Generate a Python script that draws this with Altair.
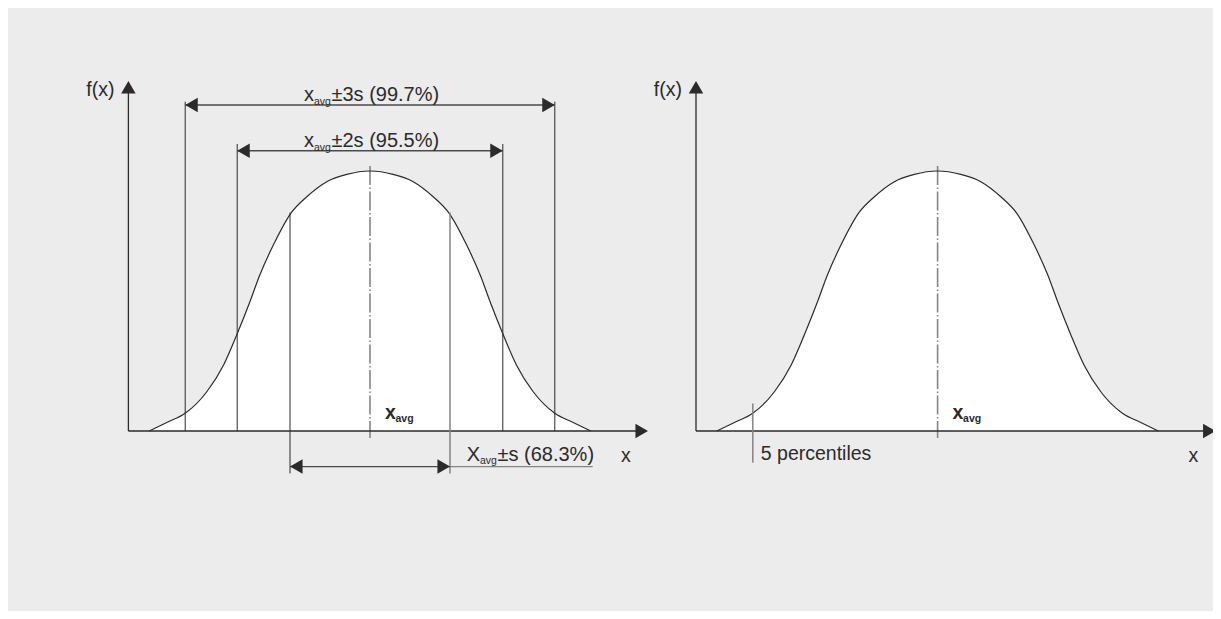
import altair as alt
import pandas as pd

# ---------------- data ----------------
# x in units of s around the mean, y as f(x) relative to its peak
curve_x = [-2.76, -2.54, -2.31, -2.04, -1.83, -1.66, -1.50, -1.38, -1.21, -0.99, -0.79, -0.54, -0.29, 0.0,
           0.29, 0.54, 0.79, 0.99, 1.21, 1.38, 1.50, 1.66, 1.83, 2.04, 2.31, 2.54, 2.76]
curve_y = [0.0, 0.033, 0.068, 0.151, 0.254, 0.374, 0.498, 0.598, 0.714, 0.837, 0.901, 0.959, 0.987, 1.0,
           0.987, 0.959, 0.901, 0.837, 0.714, 0.598, 0.498, 0.374, 0.254, 0.151, 0.068, 0.033, 0.0]
panel_centers = [0.0, 7.095]
band_half_widths = [1.0, 1.66, 2.31]
band_symbols = ["X", "x", "x"]
band_texts = ["\u00b1s (68.3%)", "\u00b12s (95.5%)", "\u00b13s (99.7%)"]
mean_symbol = "x"
mean_sub = "avg"
percentile_pos = -2.31
percentile_text = "5 percentiles"
axis_texts = ["f(x)", "x"]

# ---------------- layout ----------------
W, H = 1205, 603
SX, SY = 80.0, 260.0        # px per data unit
OX, OY = 362.0, 423.0       # plot-area px of the left mean / baseline
xs = alt.Scale(domain=[-OX / SX, (W - OX) / SX], nice=False, zero=False)
ys = alt.Scale(domain=[(OY - H) / SY, OY / SY], nice=False, zero=False)

BG = "#EBECEB"
INK = "#2b2b2b"
DIM = "#4a4a4a"
GREY = "#858585"
FONT = "Liberation Sans"
FS = 19.5
FSB = 20
SUB = 10.5

AXIS_X = -3.02
AXIS_TIP_X = 3.475
AXIS_TIP_Y = 1.346
ARROW = 210
H_AR = 0.433 * ARROW ** 0.5

dim_y = {1.0: -0.137, 1.66: 1.078, 2.31: 1.254}
vert_top = {1.66: 1.104, 2.31: 1.2665}
label_y = {1.0: -0.115, 1.66: 1.092, 2.31: 1.269}


def X(f="x"):
    return alt.X(f"{f}:Q", scale=xs, axis=None)


def Y(f="y"):
    return alt.Y(f"{f}:Q", scale=ys, axis=None)


# curve table
rows = []
for p, c in enumerate(panel_centers):
    for xv, yv in zip(curve_x, curve_y):
        rows.append({"panel": p, "x": c + xv, "y": yv, "y0": 0.0})
curve_df = pd.DataFrame(rows)

area = alt.Chart(curve_df).mark_area(fill="white", interpolate="monotone", opacity=1).encode(
    x=X(), y=Y(), y2="y0:Q", detail="panel:N")
line = alt.Chart(curve_df).mark_line(color=INK, strokeWidth=1.2, interpolate="monotone").encode(
    x=X(), y=Y(), detail="panel:N")


def seg(x, y, x2, y2):
    return {"x": x, "y": y, "x2": x2, "y2": y2}


def rules(segs, color, width, dash=None):
    kw = {"color": color, "strokeWidth": width}
    if dash:
        kw["strokeDash"] = dash
    return alt.Chart(pd.DataFrame(segs)).mark_rule(**kw).encode(
        x=X(), y=Y(), x2="x2:Q", y2="y2:Q")


c0, c1 = panel_centers
w1, w2, w3 = band_half_widths

axis_segs = []
for c in panel_centers:
    axis_segs.append(seg(c + AXIS_X, 0, c + AXIS_X, AXIS_TIP_Y - 10 / SY))
    axis_segs.append(seg(c + AXIS_X, 0, c + AXIS_TIP_X - 10 / SX, 0))

dark_segs = [
    seg(c0 - w3, 0, c0 - w3, vert_top[w3]), seg(c0 + w3, 0, c0 + w3, vert_top[w3]),
    seg(c0 - w2, 0, c0 - w2, vert_top[w2]), seg(c0 + w2, 0, c0 + w2, vert_top[w2]),
    seg(c0 - w1, 0.84, c0 - w1, -0.163),
]
grey_segs = [
    seg(c0 + w1, 0.84, c0 + w1, -0.163),
    seg(c1 + percentile_pos, 0.106, c1 + percentile_pos, -0.122),
]
dim_segs = [seg(c0 - w, dim_y[w], c0 + w, dim_y[w]) for w in band_half_widths]
leader_segs = [seg(c0 + w1, dim_y[w1], c0 + 2.784, dim_y[w1])]
mean_segs = [seg(c, 1.019, c, -0.027) for c in panel_centers]


def arrows(pts, shape, xo=0.0, yo=0.0):
    return alt.Chart(pd.DataFrame(pts)).mark_point(
        shape=shape, filled=True, size=ARROW, color=INK, opacity=1, strokeWidth=0,
        xOffset=xo, yOffset=yo).encode(x=X(), y=Y())


left_pts = [{"x": c0 - w, "y": dim_y[w]} for w in band_half_widths]
right_pts = [{"x": c0 + w, "y": dim_y[w]} for w in band_half_widths]
right_pts += [{"x": c + AXIS_TIP_X, "y": 0} for c in panel_centers]
up_pts = [{"x": c + AXIS_X, "y": AXIS_TIP_Y} for c in panel_centers]


def texts(recs, size=FS, align="left", dx=0.0, dy=0.0, weight="normal", color=INK):
    return alt.Chart(pd.DataFrame(recs)).mark_text(
        font=FONT, fontSize=size, align=align, dx=dx, dy=dy, fontWeight=weight,
        baseline="alphabetic", color=color).encode(x=X(), y=Y(), text="t:N")


fx_lab = texts([{"x": c + AXIS_X, "y": 1.288, "t": axis_texts[0]} for c in panel_centers],
               align="right", dx=-14)
x_lab = texts([{"x": c + 3.1375, "y": -0.119, "t": axis_texts[1]} for c in panel_centers])
mean_x = texts([{"x": c + 0.1875, "y": 0.046, "t": mean_symbol} for c in panel_centers], weight="bold")
mean_s = texts([{"x": c + 0.1875, "y": 0.046, "t": mean_sub} for c in panel_centers],
               size=SUB, dx=10.5, dy=3, weight="bold")

# band labels: 2s and 3s above, 1s below the axis
up_bands = [w2, w3]
band_sym = texts([{"x": c0, "y": label_y[w], "t": band_symbols[band_half_widths.index(w)]} for w in up_bands],
                 size=FSB, dx=-66)
band_sub = texts([{"x": c0, "y": label_y[w], "t": mean_sub} for w in up_bands], size=SUB, dx=-56, dy=3.5)
band_txt = texts([{"x": c0, "y": label_y[w], "t": band_texts[band_half_widths.index(w)]} for w in up_bands],
                 size=FSB, dx=-38.5)
b1_sym = texts([{"x": c0, "y": label_y[w1], "t": band_symbols[0]}], size=FSB, dx=96.7)
b1_sub = texts([{"x": c0, "y": label_y[w1], "t": mean_sub}], size=SUB, dx=110, dy=3.5)
b1_txt = texts([{"x": c0, "y": label_y[w1], "t": band_texts[0]}], size=FSB, dx=127.5)
pct_lab = texts([{"x": c1 + percentile_pos, "y": -0.1115, "t": percentile_text}], dx=8)

chart = alt.layer(
    area,
    rules(mean_segs, GREY, 1.6, [19, 2.5, 1.5, 2.5]),
    line,
    rules(axis_segs, INK, 1.3),
    rules(dark_segs, INK, 1.0),
    rules(grey_segs, GREY, 1.5),
    rules(dim_segs, DIM, 1.4),
    rules(leader_segs, GREY, 1.2),
    arrows(left_pts, "triangle-left", xo=H_AR),
    arrows(right_pts, "triangle-right", xo=-H_AR),
    arrows(up_pts, "triangle-up", yo=H_AR),
    fx_lab, x_lab, mean_x, mean_s,
    band_sym, band_sub, band_txt, b1_sym, b1_sub, b1_txt, pct_lab,
).properties(
    width=W, height=H, padding=0,
    autosize=alt.AutoSizeParams(type="none"),
).configure(background=BG).configure_view(stroke=None)

chart.save("out.html", embed_options={"renderer": "svg", "actions": False})
